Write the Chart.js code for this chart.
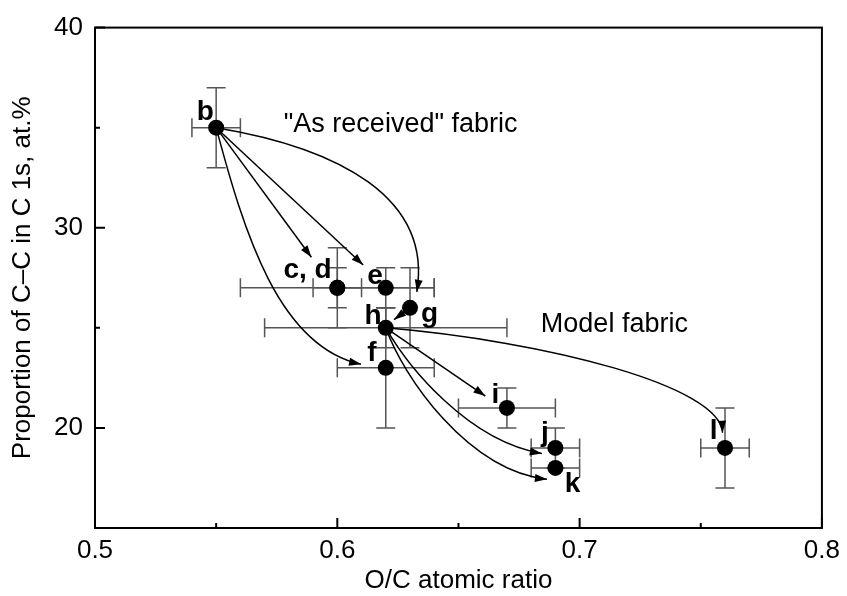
<!DOCTYPE html>
<html>
<head>
<meta charset="utf-8">
<script src="https://cdn.jsdelivr.net/npm/chart.js@4.4.1/dist/chart.umd.min.js"></script>
<style>
  body { margin: 0; background: #fff; }
  #wrap { width: 847px; height: 596px; }
</style>
</head>
<body>
<div id="wrap"><canvas id="chart" width="847" height="596"></canvas></div>
<script>
// samples b..l : O/C ratio vs C-C share, with error bars
const samples = ["b", "c", "d", "e", "f", "g", "h", "i", "j", "k", "l"];
const ocRatio = [0.55, 0.60, 0.60, 0.62, 0.62, 0.63, 0.62, 0.67, 0.69, 0.69, 0.76];
const ccShare = [35, 27, 27, 27, 23, 26, 25, 21, 19, 18, 19];
const ocError = [0.01, 0.04, 0.01, 0.02, 0.02, 0, 0.05, 0.02, 0.01, 0.01, 0.01];
const ccError = [2, 2, 1, 1, 3, 2, 1, 1, 1, 0, 2];

// letters beside the points (data coords of the text baseline centre)
const letterText = ["b", "c, d", "e", "f", "g", "h", "i", "j", "k", "l"];
const letterX = [0.5455, 0.5877, 0.6156, 0.6143, 0.6381, 0.6148, 0.6652, 0.6857, 0.6971, 0.7553];
const letterY = [35.38, 27.49, 27.2, 23.33, 25.31, 25.21, 21.25, 19.36, 16.78, 19.46];

// group notes (data coords of the text baseline start)
const noteText = ["\"As received\" fabric", "Model fabric"];
const noteX = [0.5779, 0.684];
const noteY = [34.78, 24.77];

// arrows: start sample, tip, optional bezier control points
const arrowFrom = ["b", "b", "b", "b", "g", "h", "h", "h", "h"];
const arrowTip = [[0.5893, 28.53], [0.6107, 28.14], [0.6328, 26.80], [0.6098, 23.18], [0.6234, 25.41],
                  [0.759, 19.76], [0.6611, 21.59], [0.6844, 18.72], [0.6865, 17.43]];
const arrowC1 = [null, null, [0.6004, 33.99], [0.5615, 29.77], null,
                 [0.6865, 24.32], null, [0.6291, 23.08], [0.6270, 22.59]];
const arrowC2 = [null, null, [0.6393, 31.51], [0.5758, 24.07], null,
                 [0.7582, 22.09], null, [0.6537, 19.36], [0.6537, 17.88]];

const xMajor = [0.5, 0.6, 0.7, 0.8];
const xMinor = [0.55, 0.65, 0.75];
const yMajor = [20, 30, 40];
const yMinor = [25, 35];

const FONT = "Arial, 'Liberation Sans', sans-serif";

const errorBars = {
    id: "errorBars",
    beforeDatasetsDraw(chart) {
        const { ctx, scales: { x, y } } = chart;
        const cap = 9.5;
        ctx.save();
        ctx.strokeStyle = "#555";
        ctx.lineWidth = 1.5;
        samples.forEach((s, i) => {
            const px = x.getPixelForValue(ocRatio[i]);
            const py = y.getPixelForValue(ccShare[i]);
            ctx.beginPath();
            if (ocError[i] > 0) {
                const x1 = x.getPixelForValue(ocRatio[i] - ocError[i]);
                const x2 = x.getPixelForValue(ocRatio[i] + ocError[i]);
                ctx.moveTo(x1, py); ctx.lineTo(x2, py);
                ctx.moveTo(x1, py - cap); ctx.lineTo(x1, py + cap);
                ctx.moveTo(x2, py - cap); ctx.lineTo(x2, py + cap);
            }
            if (ccError[i] > 0) {
                const y1 = y.getPixelForValue(ccShare[i] - ccError[i]);
                const y2 = y.getPixelForValue(ccShare[i] + ccError[i]);
                ctx.moveTo(px, y1); ctx.lineTo(px, y2);
                ctx.moveTo(px - cap, y1); ctx.lineTo(px + cap, y1);
                ctx.moveTo(px - cap, y2); ctx.lineTo(px + cap, y2);
            }
            ctx.stroke();
        });
        ctx.restore();
    }
};

const arrowsAndText = {
    id: "arrowsAndText",
    afterDatasetsDraw(chart) {
        const { ctx, scales: { x, y } } = chart;
        const P = p => [x.getPixelForValue(p[0]), y.getPixelForValue(p[1])];
        ctx.save();
        ctx.strokeStyle = "#000";
        ctx.fillStyle = "#000";
        ctx.lineWidth = 1.5;
        arrowFrom.forEach((name, i) => {
            const k = samples.indexOf(name);
            const s = P([ocRatio[k], ccShare[k]]);
            const t = P(arrowTip[i]);
            let back = s;
            ctx.beginPath();
            ctx.moveTo(s[0], s[1]);
            if (arrowC1[i]) {
                const c1 = P(arrowC1[i]), c2 = P(arrowC2[i]);
                ctx.bezierCurveTo(c1[0], c1[1], c2[0], c2[1], t[0], t[1]);
                back = c2;
            } else {
                ctx.lineTo(t[0], t[1]);
            }
            ctx.stroke();
            const ang = Math.atan2(t[1] - back[1], t[0] - back[0]);
            const len = 12, half = 4;
            const bx = t[0] - len * Math.cos(ang), by = t[1] - len * Math.sin(ang);
            ctx.beginPath();
            ctx.moveTo(t[0], t[1]);
            ctx.lineTo(bx + half * Math.sin(ang), by - half * Math.cos(ang));
            ctx.lineTo(bx - half * Math.sin(ang), by + half * Math.cos(ang));
            ctx.closePath();
            ctx.fill();
        });

        ctx.font = "bold 28px " + FONT;
        ctx.textAlign = "center";
        ctx.textBaseline = "alphabetic";
        letterText.forEach((txt, i) => {
            ctx.fillText(txt, x.getPixelForValue(letterX[i]), y.getPixelForValue(letterY[i]));
        });

        ctx.font = "27px " + FONT;
        ctx.textAlign = "left";
        noteText.forEach((txt, i) => {
            ctx.fillText(txt, x.getPixelForValue(noteX[i]), y.getPixelForValue(noteY[i]));
        });
        ctx.restore();
    },
    afterDraw(chart) {
        const { ctx, chartArea: a, scales: { x, y } } = chart;
        ctx.save();
        ctx.strokeStyle = "#000";
        ctx.lineWidth = 2;
        ctx.strokeRect(a.left, a.top, a.right - a.left, a.bottom - a.top);
        ctx.beginPath();
        xMajor.forEach(v => { const px = x.getPixelForValue(v); ctx.moveTo(px, a.bottom); ctx.lineTo(px, a.bottom - 10); });
        xMinor.forEach(v => { const px = x.getPixelForValue(v); ctx.moveTo(px, a.bottom); ctx.lineTo(px, a.bottom - 5); });
        yMajor.forEach(v => { const py = y.getPixelForValue(v); ctx.moveTo(a.left, py); ctx.lineTo(a.left + 10, py); });
        yMinor.forEach(v => { const py = y.getPixelForValue(v); ctx.moveTo(a.left, py); ctx.lineTo(a.left + 5, py); });
        ctx.stroke();
        ctx.restore();
    }
};

new Chart(document.getElementById("chart"), {
    type: "scatter",
    data: {
        datasets: [{
            label: "samples",
            data: samples.map((s, i) => ({ x: ocRatio[i], y: ccShare[i] })),
            backgroundColor: "#000",
            borderWidth: 0,
            pointRadius: 8,
            pointHoverRadius: 8
        }]
    },
    options: {
        responsive: false,
        animation: false,
        events: [],
        layout: { padding: { left: 0, right: 20, top: 24, bottom: 0 } },
        plugins: { legend: { display: false }, tooltip: { enabled: false } },
        scales: {
            x: {
                type: "linear", min: 0.5, max: 0.8,
                afterFit: s => { s.height = 68; },
                grid: { display: false, drawTicks: false },
                border: { display: false },
                ticks: {
                    stepSize: 0.1, padding: 7, color: "#000",
                    font: { family: FONT, size: 26 },
                    callback: v => v.toFixed(1)
                },
                title: { display: true, text: "O/C atomic ratio", color: "#000", padding: { top: 4, bottom: 0 },
                         font: { family: FONT, size: 26 } }
            },
            y: {
                type: "linear", min: 15, max: 40,
                afterFit: s => { s.width = 95; },
                grid: { display: false, drawTicks: false },
                border: { display: false },
                ticks: {
                    stepSize: 10, padding: 12, color: "#000",
                    font: { family: FONT, size: 26 },
                    callback: v => (v % 10 === 0 && v >= 20) ? String(v) : ""
                },
                title: { display: true, text: "Proportion of C–C in C 1s, at.%", color: "#000", padding: { top: 7, bottom: 0 },
                         font: { family: FONT, size: 26 } }
            }
        }
    },
    plugins: [errorBars, arrowsAndText]
});
</script>
</body>
</html>
